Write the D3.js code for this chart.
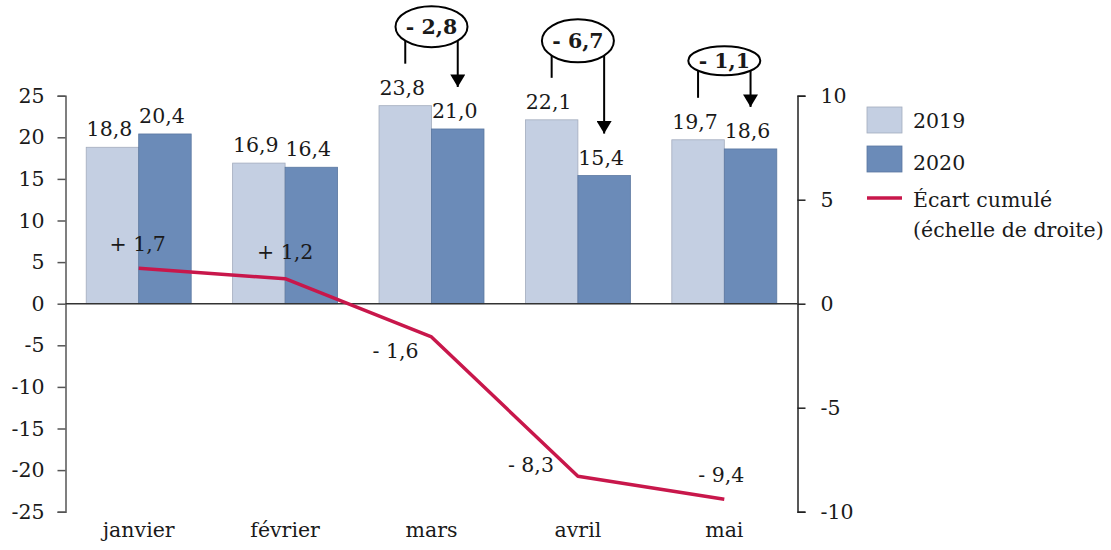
<!DOCTYPE html>
<html>
<head>
<meta charset="utf-8">
<script src="https://cdn.jsdelivr.net/npm/d3@7"></script>
<style>
  html, body { margin: 0; padding: 0; background: #ffffff; }
  svg { display: block; }
  text { font-family: "DejaVu Serif", serif; font-size: 20.5px; fill: #1a1a1a; }
</style>
</head>
<body>
<svg id="chart" width="1111" height="550"></svg>
<script>
// Monthly values (left scale)
const months = ["janvier", "février", "mars", "avril", "mai"];
const series = ["2019", "2020"];
const values2019 = [18.8, 16.9, 23.8, 22.1, 19.7];
const values2020 = [20.4, 16.4, 21.0, 15.4, 18.6];
// Cumulative gap (right scale)
const cumulGap = [1.7, 1.2, -1.6, -8.3, -9.4];
// Months flagged with a gap bubble
const bubbleMonths = ["mars", "avril", "mai"];
// Axis ticks
const leftTicks = [-25, -20, -15, -10, -5, 0, 5, 10, 15, 20, 25];
const rightTicks = [-10, -5, 0, 5, 10];
const legendLabels = ["2019", "2020", "Écart cumulé", "(échelle de droite)"];

const colors = { "2019": "#c4cfe2", "2020": "#6b8bb8" };
const strokes = { "2019": "#a3acbd", "2020": "#5a77a0" };
const lineColor = "#c8174b";

const svg = d3.select("#chart");
const plotLeft = 65.5, plotRight = 797.5, plotTop = 95.7, plotBottom = 511.7;

const x0 = d3.scaleBand().domain(months).range([plotLeft, plotRight])
  .paddingInner(0.283).paddingOuter(0.1415);
const x1 = d3.scaleBand().domain(series).range([0, x0.bandwidth()]);
const yL = d3.scaleLinear().domain([-25, 25]).range([plotBottom, plotTop]);
const yR = d3.scaleLinear().domain([-10, 10]).range([plotBottom, plotTop]);
const cx = m => x0(m) + x0.bandwidth() / 2;

const fmt = v => v.toFixed(1).replace(".", ",");
const fmtSigned = v => (v >= 0 ? "+ " : "- ") + fmt(Math.abs(v));
const fmtTick = v => String(v); // plain hyphen-minus

const rows = months.map((m, i) => ({ month: m, "2019": values2019[i], "2020": values2020[i], gap: cumulGap[i] }));

// Bars
const groups = svg.append("g").selectAll("g").data(rows).join("g")
  .attr("transform", d => `translate(${x0(d.month)},0)`);
groups.selectAll("rect").data(d => series.map(s => ({ s, v: d[s] }))).join("rect")
  .attr("x", d => x1(d.s))
  .attr("y", d => yL(Math.max(0, d.v)))
  .attr("width", x1.bandwidth())
  .attr("height", d => Math.abs(yL(d.v) - yL(0)))
  .attr("fill", d => colors[d.s])
  .attr("stroke", d => strokes[d.s])
  .attr("stroke-width", 0.8);
groups.selectAll("text").data(d => series.map(s => ({ s, v: d[s] }))).join("text")
  .attr("x", d => x1(d.s) + x1.bandwidth() / 2 - 3)
  .attr("y", d => yL(d.v) - 11)
  .attr("text-anchor", "middle")
  .text(d => fmt(d.v));

// Left axis
const axL = d3.axisLeft(yL).tickValues(leftTicks).tickSize(8).tickPadding(13).tickFormat(fmtTick);
const gL = svg.append("g").attr("transform", `translate(${plotLeft},0)`).call(axL);
gL.selectAll("path, line").attr("stroke", "#555").attr("stroke-width", 1.5);
gL.selectAll("text").style("font-family", "DejaVu Serif").style("font-size", "20.5px").attr("fill", "#1a1a1a");

// Right axis
const axR = d3.axisRight(yR).tickValues(rightTicks).tickSize(8).tickPadding(15).tickFormat(fmtTick);
const gR = svg.append("g").attr("transform", `translate(${plotRight},0)`).call(axR);
gR.selectAll("path, line").attr("stroke", "#222").attr("stroke-width", 1.5);
gR.selectAll("text").style("font-family", "DejaVu Serif").style("font-size", "20.5px").attr("fill", "#1a1a1a");

// Zero line
svg.append("line")
  .attr("x1", plotLeft).attr("x2", plotRight).attr("y1", yL(0)).attr("y2", yL(0))
  .attr("stroke", "#333").attr("stroke-width", 1.5);

// Month labels
svg.append("g").selectAll("text").data(months).join("text")
  .attr("x", d => cx(d)).attr("y", 537).attr("text-anchor", "middle").text(d => d);

// Cumulative gap line
const line = d3.line().x(d => cx(d.month)).y(d => yR(d.gap));
svg.append("path").datum(rows)
  .attr("d", line).attr("fill", "none")
  .attr("stroke", lineColor).attr("stroke-width", 3.5).attr("stroke-linejoin", "round");

// Gap labels, offset from their points
const gapOffsets = [[-1, -17], [0, -20], [-36, 21], [-47, -4], [-3, -17]];
svg.append("g").selectAll("text").data(rows).join("text")
  .attr("x", (d, i) => cx(d.month) + gapOffsets[i][0])
  .attr("y", (d, i) => yR(d.gap) + gapOffsets[i][1])
  .attr("text-anchor", "middle")
  .text(d => fmtSigned(d.gap));

// Monthly gap bubbles with arrows from 2019 to 2020
const defs = svg.append("defs");
defs.append("marker").attr("id", "arrowhead")
  .attr("viewBox", "0 0 10 12").attr("refX", 10).attr("refY", 6)
  .attr("markerWidth", 13).attr("markerHeight", 15).attr("markerUnits", "userSpaceOnUse")
  .attr("orient", "auto")
  .append("path").attr("d", "M0,0 L10,6 L0,12 Z").attr("fill", "#000");

const bubbleRy = { "mars": 20.5, "avril": 21.5, "mai": 14.5 };
const bubbles = svg.append("g").selectAll("g").data(rows.filter(d => bubbleMonths.includes(d.month))).join("g");
bubbles.each(function (d) {
  const g = d3.select(this);
  const bx = cx(d.month);
  const by = yL(d["2019"]) - 79;
  const xa = x0(d.month) + x1("2019") + x1.bandwidth() / 2;
  const xb = x0(d.month) + x1("2020") + x1.bandwidth() / 2;
  g.append("line").attr("x1", xa).attr("x2", xa).attr("y1", by).attr("y2", yL(d["2019"]) - 42)
    .attr("stroke", "#000").attr("stroke-width", 2);
  g.append("line").attr("x1", xb).attr("x2", xb).attr("y1", by).attr("y2", yL(d["2020"]) - 42)
    .attr("stroke", "#000").attr("stroke-width", 2).attr("marker-end", "url(#arrowhead)");
  g.append("ellipse").attr("cx", bx).attr("cy", by).attr("rx", 36).attr("ry", bubbleRy[d.month])
    .attr("fill", "#fff").attr("stroke", "#000").attr("stroke-width", 2);
  g.append("text").attr("x", bx).attr("y", by + 7).attr("text-anchor", "middle")
    .style("font-weight", "bold")
    .text(fmtSigned(+(d["2020"] - d["2019"]).toFixed(1)));
});

// Legend
const lg = svg.append("g");
series.forEach((s, i) => {
  lg.append("rect").attr("x", 867).attr("y", 107 + i * 39).attr("width", 35).attr("height", 26)
    .attr("fill", colors[s]).attr("stroke", strokes[s]).attr("stroke-width", 0.8);
  lg.append("text").attr("x", 913).attr("y", 128 + i * 42).text(legendLabels[i]);
});
lg.append("line").attr("x1", 867).attr("x2", 902).attr("y1", 198).attr("y2", 198)
  .attr("stroke", lineColor).attr("stroke-width", 3.5);
lg.append("text").attr("x", 913).attr("y", 207).text(legendLabels[2]);
lg.append("text").attr("x", 913).attr("y", 237).text(legendLabels[3]);
</script>
</body>
</html>
